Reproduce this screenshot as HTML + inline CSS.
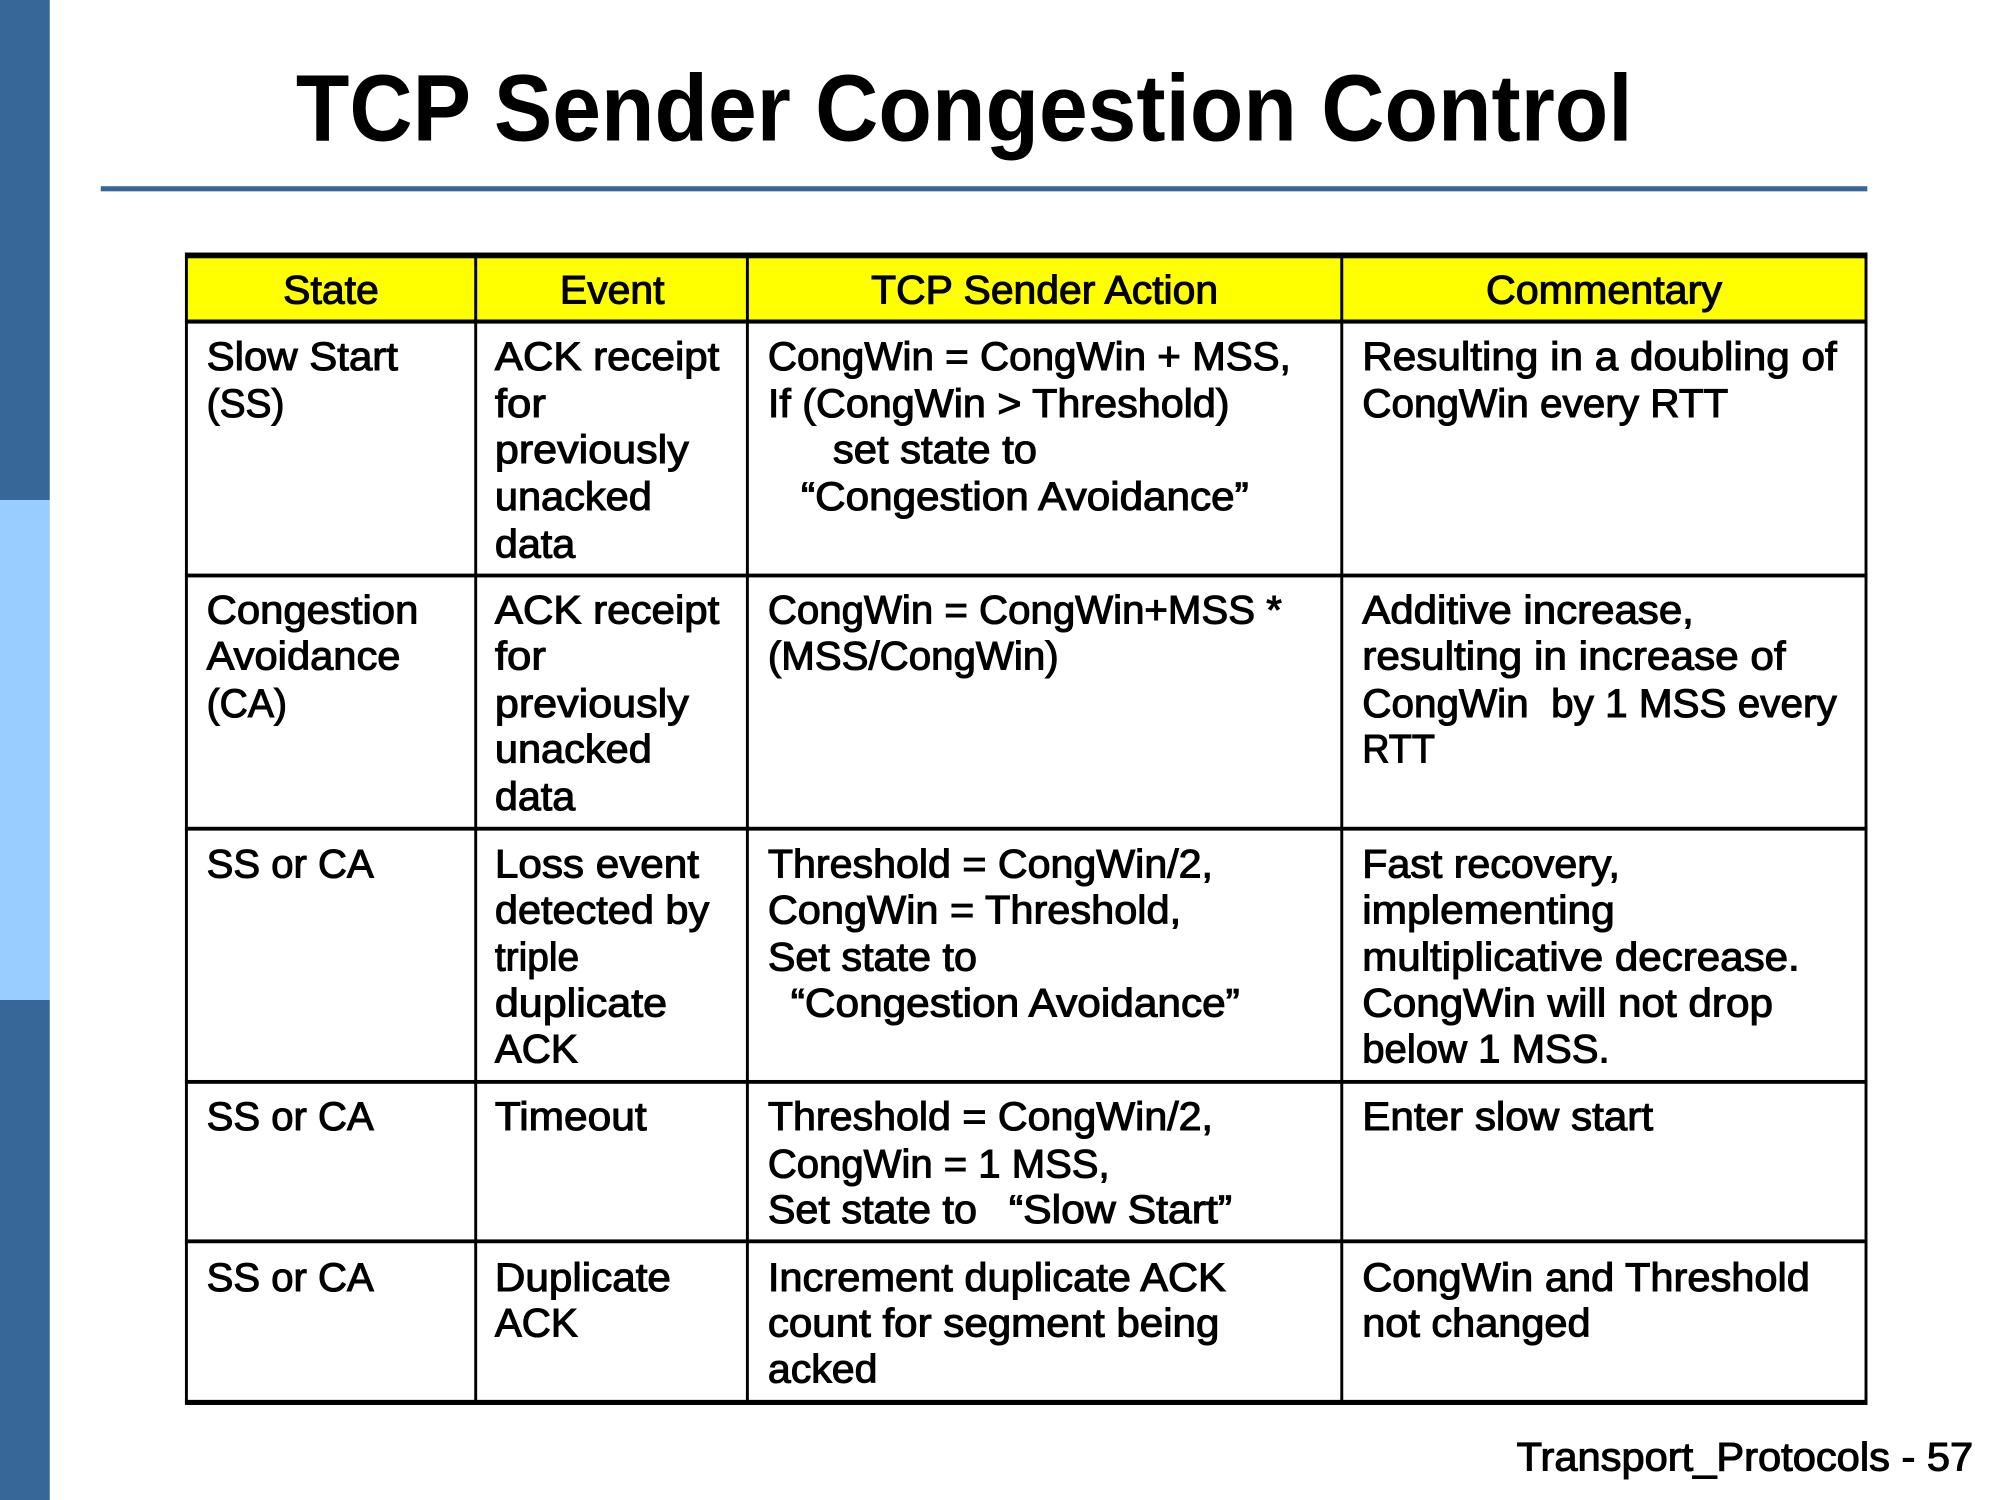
<!DOCTYPE html>
<html>
<head>
<meta charset="utf-8">
<title>TCP Sender Congestion Control</title>
<style>
html,body{margin:0;padding:0;background:#fff;width:2000px;height:1500px;overflow:hidden}
svg{display:block}
text{font-family:"Liberation Sans",Arial,sans-serif;font-size:31px;fill:#000;stroke:#000;stroke-width:.85px;white-space:pre}
text.t{font-size:74px;font-weight:bold;stroke-width:0}
</style>
</head>
<body>
<svg xmlns="http://www.w3.org/2000/svg" width="2000" height="1500" viewBox="0 0 1568 1176">
<rect width="1568" height="1176" fill="#fff"/>
<rect x="0" y="0" width="39" height="392" fill="#376699"/>
<rect x="0" y="392" width="39" height="392" fill="#99CCFF"/>
<rect x="0" y="784" width="39" height="392" fill="#376699"/>
<rect x="79" y="146" width="1385" height="4" fill="#376699"/>
<text class="t" x="232" y="110" textLength="1048" lengthAdjust="spacingAndGlyphs">TCP Sender Congestion Control</text>

<rect x="146" y="202" width="1317" height="50" fill="#FFFF00"/>
<g fill="#000">
<rect x="145" y="198" width="1319" height="4.5"/>
<rect x="145" y="250.5" width="1319" height="3.2"/>
<rect x="145" y="449.7" width="1319" height="3"/>
<rect x="145" y="648.2" width="1319" height="3"/>
<rect x="145" y="846.7" width="1319" height="3"/>
<rect x="145" y="971.7" width="1319" height="3"/>
<rect x="145" y="1097.5" width="1319" height="4"/>
<rect x="145" y="198" width="2.3" height="903"/>
<rect x="371.8" y="198" width="2.3" height="903"/>
<rect x="584.8" y="198" width="2.3" height="903"/>
<rect x="1050.8" y="198" width="2.3" height="903"/>
<rect x="1461.8" y="198" width="2.3" height="903"/>
</g>

<!-- header -->
<text x="222" y="238" textLength="75" lengthAdjust="spacingAndGlyphs">State</text>
<text x="439" y="238" textLength="82" lengthAdjust="spacingAndGlyphs">Event</text>
<text x="683" y="238" textLength="272" lengthAdjust="spacingAndGlyphs">TCP Sender Action</text>
<text x="1165" y="238" textLength="185" lengthAdjust="spacingAndGlyphs">Commentary</text>

<!-- row 1 -->
<text x="162" y="290" textLength="150" lengthAdjust="spacingAndGlyphs">Slow Start</text>
<text x="162" y="327" textLength="61" lengthAdjust="spacingAndGlyphs">(SS)</text>
<text x="388" y="290" textLength="176" lengthAdjust="spacingAndGlyphs">ACK receipt</text>
<text x="388" y="327" textLength="40" lengthAdjust="spacingAndGlyphs">for</text>
<text x="388" y="363" textLength="152" lengthAdjust="spacingAndGlyphs">previously</text>
<text x="388" y="400" textLength="123" lengthAdjust="spacingAndGlyphs">unacked</text>
<text x="388" y="437" textLength="63" lengthAdjust="spacingAndGlyphs">data</text>
<text x="602" y="290" textLength="410" lengthAdjust="spacingAndGlyphs">CongWin = CongWin + MSS,</text>
<text x="602" y="327" textLength="362" lengthAdjust="spacingAndGlyphs">If (CongWin &gt; Threshold)</text>
<text x="653" y="363" textLength="160" lengthAdjust="spacingAndGlyphs">set state to</text>
<text x="628" y="400" textLength="351" lengthAdjust="spacingAndGlyphs">“Congestion Avoidance”</text>
<text x="1068" y="290" textLength="372" lengthAdjust="spacingAndGlyphs">Resulting in a doubling of</text>
<text x="1068" y="327" textLength="287" lengthAdjust="spacingAndGlyphs">CongWin every RTT</text>

<!-- row 2 -->
<text x="162" y="489" textLength="166" lengthAdjust="spacingAndGlyphs">Congestion</text>
<text x="162" y="525" textLength="152" lengthAdjust="spacingAndGlyphs">Avoidance</text>
<text x="162" y="562" textLength="63" lengthAdjust="spacingAndGlyphs">(CA)</text>
<text x="388" y="489" textLength="176" lengthAdjust="spacingAndGlyphs">ACK receipt</text>
<text x="388" y="525" textLength="40" lengthAdjust="spacingAndGlyphs">for</text>
<text x="388" y="562" textLength="152" lengthAdjust="spacingAndGlyphs">previously</text>
<text x="388" y="598" textLength="123" lengthAdjust="spacingAndGlyphs">unacked</text>
<text x="388" y="635" textLength="63" lengthAdjust="spacingAndGlyphs">data</text>
<text x="602" y="489" textLength="403" lengthAdjust="spacingAndGlyphs">CongWin = CongWin+MSS *</text>
<text x="602" y="525" textLength="228" lengthAdjust="spacingAndGlyphs">(MSS/CongWin)</text>
<text x="1068" y="489" textLength="260" lengthAdjust="spacingAndGlyphs">Additive increase,</text>
<text x="1068" y="525" textLength="332" lengthAdjust="spacingAndGlyphs">resulting in increase of</text>
<text x="1068" y="562" textLength="372" lengthAdjust="spacingAndGlyphs">CongWin  by 1 MSS every</text>
<text x="1068" y="598" textLength="57" lengthAdjust="spacingAndGlyphs">RTT</text>

<!-- row 3 -->
<text x="162" y="688" textLength="131" lengthAdjust="spacingAndGlyphs">SS or CA</text>
<text x="388" y="688" textLength="160" lengthAdjust="spacingAndGlyphs">Loss event</text>
<text x="388" y="724" textLength="168" lengthAdjust="spacingAndGlyphs">detected by</text>
<text x="388" y="761" textLength="66" lengthAdjust="spacingAndGlyphs">triple</text>
<text x="388" y="797" textLength="135" lengthAdjust="spacingAndGlyphs">duplicate</text>
<text x="388" y="833" textLength="65" lengthAdjust="spacingAndGlyphs">ACK</text>
<text x="602" y="688" textLength="349" lengthAdjust="spacingAndGlyphs">Threshold = CongWin/2,</text>
<text x="602" y="724" textLength="324" lengthAdjust="spacingAndGlyphs">CongWin = Threshold,</text>
<text x="602" y="761" textLength="164" lengthAdjust="spacingAndGlyphs">Set state to</text>
<text x="620" y="797" textLength="352" lengthAdjust="spacingAndGlyphs">“Congestion Avoidance”</text>
<text x="1068" y="688" textLength="202" lengthAdjust="spacingAndGlyphs">Fast recovery,</text>
<text x="1068" y="724" textLength="198" lengthAdjust="spacingAndGlyphs">implementing</text>
<text x="1068" y="761" textLength="343" lengthAdjust="spacingAndGlyphs">multiplicative decrease.</text>
<text x="1068" y="797" textLength="322" lengthAdjust="spacingAndGlyphs">CongWin will not drop</text>
<text x="1068" y="833" textLength="194" lengthAdjust="spacingAndGlyphs">below 1 MSS.</text>

<!-- row 4 -->
<text x="162" y="886" textLength="131" lengthAdjust="spacingAndGlyphs">SS or CA</text>
<text x="388" y="886" textLength="119" lengthAdjust="spacingAndGlyphs">Timeout</text>
<text x="602" y="886" textLength="349" lengthAdjust="spacingAndGlyphs">Threshold = CongWin/2,</text>
<text x="602" y="923" textLength="268" lengthAdjust="spacingAndGlyphs">CongWin = 1 MSS,</text>
<text x="602" y="959" textLength="164" lengthAdjust="spacingAndGlyphs">Set state to</text>
<text x="791" y="959" textLength="175" lengthAdjust="spacingAndGlyphs">“Slow Start”</text>
<text x="1068" y="886" textLength="228" lengthAdjust="spacingAndGlyphs">Enter slow start</text>

<!-- row 5 -->
<text x="162" y="1012" textLength="131" lengthAdjust="spacingAndGlyphs">SS or CA</text>
<text x="388" y="1012" textLength="138" lengthAdjust="spacingAndGlyphs">Duplicate</text>
<text x="388" y="1048" textLength="65" lengthAdjust="spacingAndGlyphs">ACK</text>
<text x="602" y="1012" textLength="359" lengthAdjust="spacingAndGlyphs">Increment duplicate ACK</text>
<text x="602" y="1048" textLength="354" lengthAdjust="spacingAndGlyphs">count for segment being</text>
<text x="602" y="1084" textLength="86" lengthAdjust="spacingAndGlyphs">acked</text>
<text x="1068" y="1012" textLength="351" lengthAdjust="spacingAndGlyphs">CongWin and Threshold</text>
<text x="1068" y="1048" textLength="179" lengthAdjust="spacingAndGlyphs">not changed</text>

<!-- footer -->
<text x="1189" y="1153" textLength="358" lengthAdjust="spacingAndGlyphs">Transport_Protocols - 57</text>
</svg>
</body>
</html>
